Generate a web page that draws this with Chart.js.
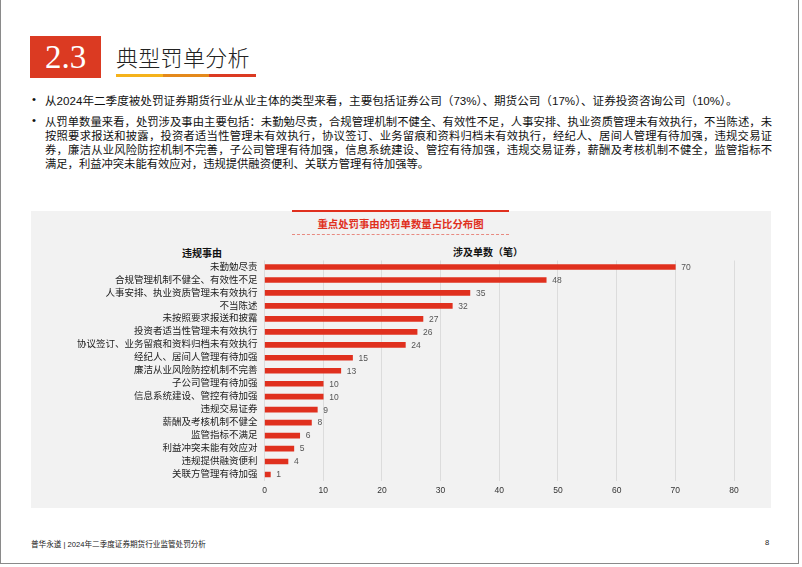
<!DOCTYPE html>
<html>
<head>
<meta charset="utf-8">
<script src="https://cdn.jsdelivr.net/npm/chart.js@4.4.1/dist/chart.umd.min.js"></script>
<style>
  body { margin: 0; background: #fff; font-family: "Liberation Sans", "Noto Sans CJK SC", sans-serif; }
  #page { position: relative; width: 802px; height: 567px; overflow: hidden; }
  .abs { position: absolute; }
  #frame { left: 0; top: -2px; width: 799px; height: 566px; border: 1.5px solid #8a8a8a; border-top: none; box-sizing: border-box; }
  #secbox { left: 30px; top: 36px; width: 71px; height: 42px; background: #db3a22; color: #fff;
    font-family: "Liberation Serif", serif; font-size: 33px; line-height: 42px; text-align: center; }
  #sectitle { left: 116px; top: 42px; font-family: "Noto Sans CJK SC"; font-weight: 300; font-size: 22px; line-height: 28px; color: #222; letter-spacing: 0.3px; }
  .uline { top: 74px; height: 3px; }
  .bullet { left: 32px; font-size: 11.3px; color: #111; }
  .line { left: 45px; width: 727px; font-size: 11.3px; line-height: 14px; color: #111; white-space: nowrap; }
  .just { text-align: justify; text-align-last: justify; white-space: normal; }
  #panel { left: 31px; top: 211px; width: 740px; height: 297px; background: #f2f2f2; }
  #ctitle { left: 292px; top: 216px; width: 217px; text-align: center; color: #e0301e; font-weight: bold; font-size: 10.4px; line-height: 16px; font-family: "Noto Sans CJK SC"; }
  #redline { left: 292px; top: 210px; width: 217px; height: 1.5px; background: #e0301e; }
  #dash { left: 292px; top: 234px; width: 217px; border-top: 1px dashed #e88a80; }
  .hdr { font-weight: bold; font-size: 10px; color: #111; font-family: "Noto Sans CJK SC"; line-height: 14px; }
  #footer { left: 31px; top: 538px; font-size: 7.6px; color: #222; }
  #pnum { left: 765px; top: 538px; font-size: 7.6px; color: #222; }
</style>
</head>
<body>
<div id="page">
  <div class="abs" id="frame"></div>
  <div class="abs" id="secbox">2.3</div>
  <div class="abs" id="sectitle">典型罚单分析</div>
  <div class="abs uline" style="left:116px;width:47px;background:#f5b21b"></div>
  <div class="abs uline" style="left:163px;width:46px;background:#e4891b"></div>
  <div class="abs uline" style="left:209px;width:47px;background:#db3a22"></div>

  <div class="abs bullet" style="top:93px">•</div>
  <div class="abs line" style="top:94px;font-size:11.6px">从2024年二季度被处罚证券期货行业从业主体的类型来看，主要包括证券公司（73%）、期货公司（17%）、证券投资咨询公司（10%）。</div>
  <div class="abs bullet" style="top:114px">•</div>
  <div class="abs line just" style="top:115px">从罚单数量来看，处罚涉及事由主要包括：未勤勉尽责，合规管理机制不健全、有效性不足，人事安排、执业资质管理未有效执行，不当陈述，未</div>
  <div class="abs line just" style="top:129px">按照要求报送和披露，投资者适当性管理未有效执行，协议签订、业务留痕和资料归档未有效执行，经纪人、居间人管理有待加强，违规交易证</div>
  <div class="abs line just" style="top:143px">券，廉洁从业风险防控机制不完善，子公司管理有待加强，信息系统建设、管控有待加强，违规交易证券，薪酬及考核机制不健全，监管指标不</div>
  <div class="abs line" style="top:157px">满足，利益冲突未能有效应对，违规提供融资便利、关联方管理有待加强等。</div>

  <div class="abs" id="panel"></div>
  <div class="abs" id="redline"></div>
  <div class="abs" id="ctitle">重点处罚事由的罚单数量占比分布图</div>
  <div class="abs" id="dash"></div>
  <div class="abs hdr" style="left:182px;top:246px">违规事由</div>
  <div class="abs hdr" style="left:453px;top:245px">涉及单数（笔）</div>

  <div class="abs" style="left:31px;top:240px;width:740px;height:265px">
    <canvas id="penaltyChart"></canvas>
  </div>

  <div class="abs" id="footer">普华永道 | 2024年二季度证券期货行业监管处罚分析</div>
  <div class="abs" id="pnum">8</div>
</div>

<script>
// 违规事由 and 罚单数量
const reasons = [
  '未勤勉尽责',
  '合规管理机制不健全、有效性不足',
  '人事安排、执业资质管理未有效执行',
  '不当陈述',
  '未按照要求报送和披露',
  '投资者适当性管理未有效执行',
  '协议签订、业务留痕和资料归档未有效执行',
  '经纪人、居间人管理有待加强',
  '廉洁从业风险防控机制不完善',
  '子公司管理有待加强',
  '信息系统建设、管控有待加强',
  '违规交易证券',
  '薪酬及考核机制不健全',
  '监管指标不满足',
  '利益冲突未能有效应对',
  '违规提供融资便利',
  '关联方管理有待加强'
];
const counts = [70, 48, 35, 32, 27, 26, 24, 15, 13, 10, 10, 9, 8, 6, 5, 4, 1];
const xTicks = [0, 10, 20, 30, 40, 50, 60, 70, 80];

const fontFamily = '"Liberation Sans", "Noto Sans CJK SC", sans-serif';

// draws the number at the end of each bar
const valueLabels = {
  id: 'valueLabels',
  afterDatasetsDraw(chart) {
    const ctx = chart.ctx;
    const meta = chart.getDatasetMeta(0);
    ctx.save();
    ctx.fillStyle = '#555';
    ctx.font = '8.5px ' + fontFamily;
    ctx.textBaseline = 'middle';
    ctx.textAlign = 'left';
    meta.data.forEach((bar, i) => {
      ctx.fillText(counts[i], bar.x + 6, bar.y + 0.5);
    });
    ctx.restore();
  }
};

document.addEventListener('DOMContentLoaded', function() {
  const ctx = document.getElementById('penaltyChart').getContext('2d');
  new Chart(ctx, {
    type: 'bar',
    data: {
      labels: reasons,
      datasets: [{
        data: counts,
        backgroundColor: '#e0301e',
        barThickness: 5
      }]
    },
    options: {
      indexAxis: 'y',
      responsive: true,
      maintainAspectRatio: false,
      animation: false,
      layout: { padding: { top: 20.5, right: 37, bottom: 0, left: 0 } },
      plugins: {
        legend: { display: false },
        tooltip: { enabled: false }
      },
      scales: {
        x: {
          min: 0,
          max: 80,
          afterBuildTicks: axis => { axis.ticks = xTicks.map(v => ({ value: v })); },
          afterFit: axis => { axis.height = 24; },
          grid: { color: '#dcdcdc', drawTicks: false },
          border: { display: false },
          ticks: { color: '#333', padding: 5, font: { size: 8.5, family: fontFamily } }
        },
        y: {
          afterFit: axis => { axis.width = 233.5; },
          grid: { display: false, drawTicks: false },
          border: { display: false },
          ticks: { color: '#222', padding: 7, autoSkip: false, font: { size: 9.5, family: fontFamily } }
        }
      }
    },
    plugins: [valueLabels]
  });
});
</script>
</body>
</html>
